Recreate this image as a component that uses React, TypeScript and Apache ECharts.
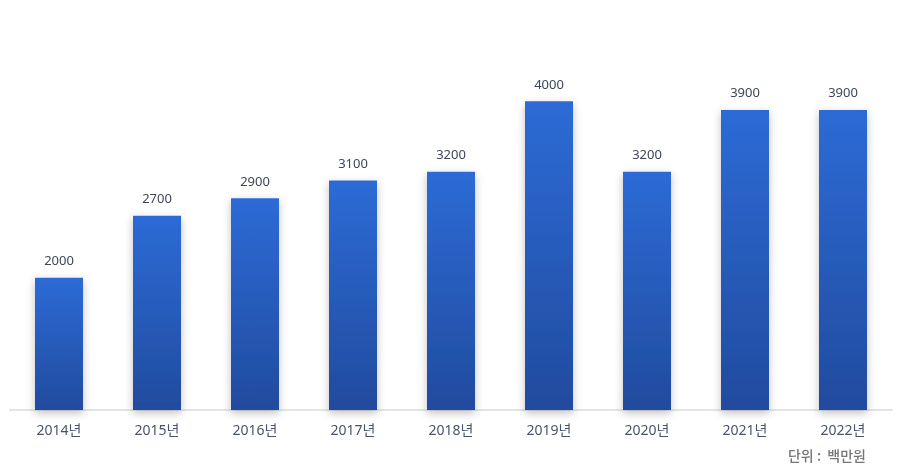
import React, { useEffect, useRef } from "react";
import * as echarts from "echarts";

const categories = ["2014년", "2015년", "2016년", "2017년", "2018년", "2019년", "2020년", "2021년", "2022년"];
const values = [2000, 2700, 2900, 3100, 3200, 4000, 3200, 3900, 3900];
const unitText = "단위 :\u00a0\u00a0백만원";

export default function App() {
  const ref = useRef<HTMLDivElement>(null);
  useEffect(() => {
    const chart = echarts.init(ref.current!, null, { renderer: "svg" });
    chart.setOption({
      animation: false,
      grid: { left: 10, right: 12, top: 57, bottom: 65, containLabel: false },
      xAxis: {
        type: "category",
        data: categories,
        axisLine: { lineStyle: { color: "#e1e4e9", width: 2 } },
        axisTick: { show: false },
        axisLabel: { color: "#4a5468", fontSize: 14, margin: 12, fontFamily: "'Noto Sans', 'Noto Sans CJK KR', sans-serif" },
      },
      yAxis: {
        type: "value",
        min: 500,
        max: 4500,
        show: false,
        splitLine: { show: false },
      },
      graphic: [
        {
          type: "text",
          right: 38,
          top: 448,
          style: { text: unitText, fill: "#767676", fontSize: 14, fontWeight: 500, fontFamily: "'Noto Sans CJK KR', sans-serif" },
        },
      ],
      series: [
        {
          type: "bar",
          data: values,
          barWidth: 48,
          itemStyle: {
            color: new echarts.graphic.LinearGradient(0, 0, 0, 1, [
              { offset: 0, color: "#2d6bd6" },
              { offset: 1, color: "#214b9e" },
            ]),
            shadowColor: "rgba(0,0,0,0.25)",
            shadowBlur: 8,
            shadowOffsetY: 3,
          },
          label: {
            show: true,
            position: "top",
            distance: 11,
            color: "#3e4657",
            fontSize: 13,
            fontFamily: "'Noto Sans', sans-serif",
          },
        },
      ],
    });
    return () => chart.dispose();
  }, []);
  return <div ref={ref} style={{ position: "fixed", left: 0, top: 0, width: 904, height: 475 }} />;
}
